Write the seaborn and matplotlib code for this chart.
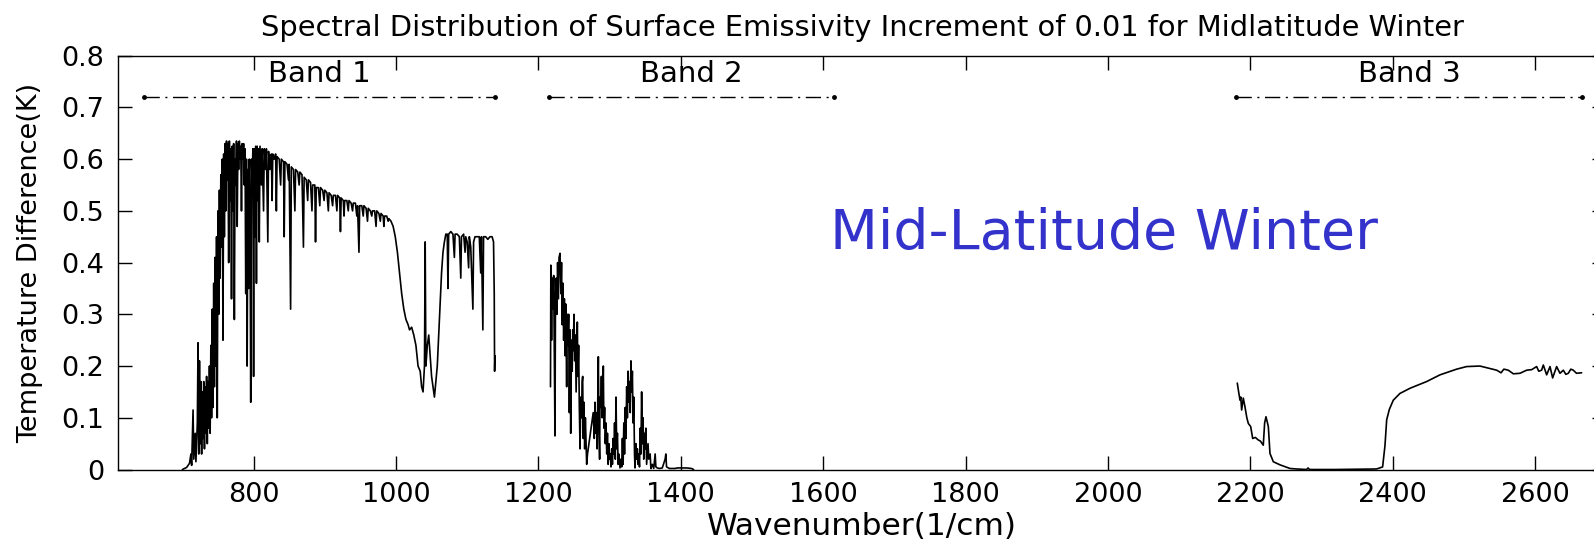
import matplotlib
matplotlib.use("Agg")
import matplotlib.pyplot as plt
import pandas as pd
import seaborn as sns

# ---------------- data ----------------
band1_wn = [700, 706, 710, 712, 713, 715, 716, 718, 719, 721, 722, 723, 724, 725, 726, 727, 728, 729, 730, 731,
            732, 733, 734, 735, 736, 737, 738, 739, 740, 741, 742, 743, 744, 745, 746, 747, 748, 749, 750, 751,
            752, 753, 754, 755, 756, 757, 758, 759, 760, 761, 762, 763, 764, 765, 766, 767, 768, 769, 770, 771,
            772, 773, 774, 775, 776, 777, 778, 779, 780, 781, 782, 783, 784, 785, 786, 787, 788, 789, 790, 791,
            792, 793, 794, 795, 796, 797, 798, 799, 800, 801, 802, 803, 804, 805, 806, 807, 808, 809, 811, 812,
            814, 815, 817, 818, 820, 821, 823, 825, 826, 827, 829, 831, 832, 833, 836, 838, 839, 842, 843, 844,
            847, 849, 850, 852, 853, 856, 858, 859, 862, 864, 865, 868, 870, 871, 874, 876, 877, 880, 882, 883,
            886, 887, 888, 891, 893, 894, 897, 899, 900, 903, 905, 906, 909, 911, 912, 915, 917, 918, 921, 922,
            923, 926, 927, 928, 931, 933, 934, 937, 939, 940, 943, 945, 946, 948, 949, 952, 954, 955, 958, 960,
            961, 964, 966, 967, 970, 972, 973, 976, 978, 979, 982, 983, 984, 987, 989, 990, 993, 996, 999, 1002,
            1005, 1008, 1011, 1014, 1017, 1019, 1022, 1025, 1028, 1031, 1034, 1036, 1038, 1040, 1041, 1042, 1044, 1046, 1048, 1050,
            1052, 1054, 1056, 1058, 1060, 1062, 1064, 1066, 1068, 1070, 1072, 1073, 1074, 1077, 1080, 1082, 1083, 1086, 1089, 1091,
            1092, 1095, 1097, 1098, 1100, 1102, 1103, 1105, 1107, 1108, 1109, 1111, 1114, 1117, 1119, 1120, 1122, 1123, 1126, 1129,
            1132, 1135, 1137, 1138, 1138.5, 1139]
band1_dt = [0.0, 0.004, 0.012, 0.03, 0.008, 0.115, 0.02, 0.07, 0.015, 0.09, 0.245, 0.03, 0.21, 0.05, 0.17, 0.03, 0.15, 0.06, 0.17, 0.04,
            0.16, 0.07, 0.18, 0.05, 0.17, 0.08, 0.2, 0.07, 0.24, 0.1, 0.31, 0.12, 0.36, 0.16, 0.41, 0.2, 0.45, 0.1, 0.5, 0.3,
            0.54, 0.37, 0.57, 0.43, 0.6, 0.25, 0.61, 0.45, 0.63, 0.5, 0.635, 0.56, 0.63, 0.4, 0.635, 0.52, 0.62, 0.33, 0.625, 0.5,
            0.63, 0.29, 0.6, 0.55, 0.635, 0.47, 0.63, 0.58, 0.635, 0.6, 0.625, 0.5, 0.63, 0.6, 0.63, 0.55, 0.62, 0.34, 0.6, 0.2,
            0.58, 0.35, 0.6, 0.5, 0.13, 0.6, 0.55, 0.62, 0.18, 0.62, 0.45, 0.625, 0.36, 0.625, 0.52, 0.62, 0.44, 0.625, 0.55, 0.62,
            0.5, 0.62, 0.58, 0.62, 0.44, 0.615, 0.58, 0.61, 0.52, 0.61, 0.6, 0.61, 0.5, 0.605, 0.6, 0.55, 0.6, 0.595, 0.45, 0.595,
            0.59, 0.56, 0.59, 0.31, 0.585, 0.58, 0.5, 0.58, 0.575, 0.55, 0.575, 0.57, 0.43, 0.565, 0.56, 0.52, 0.56, 0.555, 0.5, 0.55,
            0.55, 0.44, 0.545, 0.545, 0.51, 0.545, 0.54, 0.52, 0.54, 0.535, 0.5, 0.535, 0.53, 0.51, 0.53, 0.53, 0.5, 0.53, 0.525, 0.46,
            0.525, 0.52, 0.49, 0.52, 0.52, 0.5, 0.52, 0.515, 0.5, 0.515, 0.515, 0.49, 0.51, 0.42, 0.51, 0.51, 0.49, 0.51, 0.505, 0.48,
            0.505, 0.5, 0.49, 0.5, 0.5, 0.47, 0.5, 0.495, 0.48, 0.495, 0.49, 0.47, 0.49, 0.49, 0.48, 0.485, 0.48, 0.47, 0.45, 0.42,
            0.38, 0.34, 0.31, 0.29, 0.28, 0.27, 0.275, 0.26, 0.24, 0.2, 0.19, 0.16, 0.15, 0.2, 0.44, 0.2, 0.24, 0.26, 0.22, 0.18,
            0.16, 0.14, 0.17, 0.2, 0.26, 0.32, 0.38, 0.42, 0.44, 0.455, 0.455, 0.35, 0.455, 0.46, 0.455, 0.41, 0.455, 0.455, 0.45, 0.37,
            0.45, 0.455, 0.42, 0.45, 0.44, 0.39, 0.45, 0.43, 0.35, 0.31, 0.44, 0.45, 0.45, 0.45, 0.38, 0.45, 0.27, 0.45, 0.45, 0.445,
            0.45, 0.45, 0.44, 0.34, 0.19, 0.22]

band2_wn = [1217, 1217.5, 1218.5, 1219.5, 1220.5, 1221.5, 1222.5, 1223.3, 1224, 1225, 1226, 1227, 1228, 1229, 1230.4, 1231.5,
            1232.5, 1233.5, 1234.5, 1235.5, 1236.5, 1237.5, 1238.5, 1239.7, 1240.5, 1241.5, 1242.5, 1243.5, 1244.5, 1245.4,
            1246.5, 1247.5, 1248.3, 1249.1, 1250, 1251, 1252, 1253, 1254.7, 1255.5, 1256.5, 1257.5, 1258.5, 1259.5, 1260.5,
            1261.5, 1262.2, 1263, 1264, 1265, 1266, 1267.8, 1269, 1271, 1273, 1275, 1277, 1278.5, 1279.5, 1280.5, 1281.5,
            1282.5, 1283.5, 1284.2, 1285, 1286, 1286.5, 1287.5, 1288.5, 1289.5, 1290.5, 1291.2, 1292, 1293, 1294, 1295, 1296,
            1297, 1298, 1299, 1300, 1301, 1302, 1303, 1304, 1305, 1306, 1307, 1308, 1309, 1310, 1311, 1312, 1313, 1314.6,
            1316, 1317, 1318, 1319, 1320, 1321, 1322, 1323, 1324, 1325, 1326, 1327, 1328, 1329, 1330, 1331, 1332, 1333, 1334,
            1335, 1335.7, 1337, 1338, 1339, 1340, 1341, 1342, 1343, 1344, 1345, 1346, 1347, 1348, 1349, 1350, 1351, 1352,
            1354, 1355, 1357, 1358, 1360, 1362, 1364, 1365, 1367, 1370, 1374, 1378, 1379, 1380, 1384, 1392, 1395, 1405, 1408,
            1415, 1418]
band2_dt = [0.16, 0.395, 0.25, 0.37, 0.31, 0.375, 0.2, 0.065, 0.33, 0.37, 0.3, 0.4, 0.33, 0.41, 0.418, 0.34,
            0.4, 0.28, 0.36, 0.25, 0.33, 0.22, 0.32, 0.16, 0.3, 0.24, 0.3, 0.11, 0.27, 0.07,
            0.25, 0.19, 0.27, 0.23, 0.3, 0.21, 0.26, 0.15, 0.285, 0.18, 0.24, 0.12, 0.04, 0.14, 0.1,
            0.17, 0.18, 0.06, 0.13, 0.04, 0.1, 0.01, 0.03, 0.05, 0.07, 0.09, 0.11, 0.06, 0.13, 0.07, 0.11,
            0.04, 0.15, 0.218, 0.09, 0.02, 0.14, 0.12, 0.18, 0.1, 0.14, 0.2, 0.08, 0.12, 0.05, 0.09, 0.03,
            0.07, 0.01, 0.05, 0.02, 0.03, 0.005, 0.04, 0.01, 0.06, 0.03, 0.09, 0.02, 0.14, 0.04, 0.07, 0.01, 0.03, 0.003,
            0.02, 0.005, 0.06, 0.01, 0.09, 0.03, 0.12, 0.06, 0.16, 0.1, 0.19, 0.13, 0.17, 0.11, 0.21, 0.15, 0.19, 0.09, 0.14,
            0.03, 0.003, 0.05, 0.02, 0.04, 0.01, 0.03, 0.005, 0.08, 0.03, 0.15, 0.05, 0.1, 0.02, 0.07, 0.04, 0.08, 0.01,
            0.05, 0.02, 0.03, 0.002, 0.01, 0.002, 0.03, 0.005, 0.003, 0.002, 0.003, 0.02, 0.03, 0.005, 0.002, 0.002, 0.003, 0.003, 0.003,
            0.002, 0.0]

band3_wn = [2181.6, 2183.5, 2185.4, 2186.5, 2187.7, 2190, 2192.4, 2195, 2197.1, 2200.4, 2203.2, 2207, 2211.1, 2214, 2218.1,
            2220, 2221.9, 2225.2, 2227.5, 2232.2, 2241.6, 2255.6, 2265, 2279, 2281, 2283, 2320, 2377.3, 2385.7, 2389,
            2391.4, 2395.1, 2400.7, 2410, 2424.1, 2447.5, 2466.3, 2489.7, 2503.7, 2522.4, 2545.9, 2552, 2556, 2562.2, 2569.3,
            2578.6, 2588, 2595, 2602, 2605, 2609, 2611.4, 2616.1, 2620.8, 2624.5, 2630.1, 2634.8, 2639.5, 2643, 2646.5, 2650,
            2653.5, 2658, 2665.2]
band3_dt = [0.167, 0.15, 0.134, 0.14, 0.115, 0.138, 0.121, 0.1, 0.089, 0.083, 0.06, 0.062, 0.057, 0.055, 0.047,
            0.09, 0.102, 0.083, 0.031, 0.015, 0.009, 0.002, 0.001, 0.0, 0.003, 0.0, 0.0, 0.001, 0.005, 0.046,
            0.096, 0.116, 0.134, 0.147, 0.157, 0.170, 0.183, 0.194, 0.199, 0.200, 0.192, 0.187, 0.194, 0.192, 0.185,
            0.186, 0.192, 0.193, 0.199, 0.19, 0.192, 0.202, 0.183, 0.199, 0.177, 0.199, 0.186, 0.192, 0.184, 0.186, 0.194,
            0.192, 0.186, 0.187]

band_names = ["Band 1", "Band 2", "Band 3"]
band_start = [646, 1215, 2180]
band_end = [1139, 1615, 2666]
band_line_y = 0.72
band_label_y = 0.765

x_ticks = [800, 1000, 1200, 1400, 1600, 1800, 2000, 2200, 2400, 2600]
y_ticks = [0, 0.1, 0.2, 0.3, 0.4, 0.5, 0.6, 0.7, 0.8]
y_tick_labels = ["0", "0.1", "0.2", "0.3", "0.4", "0.5", "0.6", "0.7", "0.8"]

title = "Spectral Distribution of Surface Emissivity Increment of 0.01 for Midlatitude Winter"
x_label = "Wavenumber(1/cm)"
y_label = "Temperature Difference(K)"
overlay_text = "Mid-Latitude Winter"

# ---------------- plot ----------------
sns.set_style("ticks")
plt.rcParams["font.family"] = ["DejaVu Sans"]
plt.rcParams["text.color"] = "black"
plt.rcParams["axes.labelcolor"] = "black"

fig = plt.figure(figsize=(15.94, 5.42), dpi=100)
ax = fig.add_axes([118.3 / 1594, (542 - 469.5) / 542, (1606.4 - 118.3) / 1594, (469.5 - 55.7) / 542])

for name, wn, dt in [("b1", band1_wn, band1_dt), ("b2", band2_wn, band2_dt), ("b3", band3_wn, band3_dt)]:
    df = pd.DataFrame({"wn": wn, "dt": dt})
    sns.lineplot(data=df, x="wn", y="dt", ax=ax, color="black", linewidth=1.2,
                 estimator=None, sort=False, legend=False)

for name, x0, x1 in zip(band_names, band_start, band_end):
    bdf = pd.DataFrame({"wn": [x0, x1], "dt": [band_line_y, band_line_y]})
    sns.lineplot(data=bdf, x="wn", y="dt", ax=ax, color="black", linewidth=1.0,
                 estimator=None, sort=False, legend=False, marker="o", markersize=3.5,
                 markeredgewidth=0, linestyle=(0, (11, 4, 1.5, 4)))
    ax.text((x0 + x1) / 2, band_label_y, name, ha="center", va="center", fontsize=21, color="black")

ax.text(1610, 0.455, overlay_text, ha="left", va="center", fontsize=40, color="#3333cc")

ax.set_xlim(610, 2700)
ax.set_ylim(0, 0.8)
ax.set_xticks(x_ticks)
ax.set_xticklabels([str(t) for t in x_ticks])
ax.set_yticks(y_ticks)
ax.set_yticklabels(y_tick_labels)
ax.tick_params(direction="in", length=10, width=1.0, top=True, right=True,
               labelsize=19.5, pad=10, colors="black")
ax.tick_params(axis="x", pad=9)
for s in ax.spines.values():
    s.set_visible(True)
    s.set_linewidth(1.0)
    s.set_color("black")

ax.set_title(title, fontsize=20.8, pad=14, color="black")
ax.set_xlabel(x_label, fontsize=22.5, labelpad=3, color="black")
ax.set_ylabel(y_label, fontsize=19.5, labelpad=13, color="black")

fig.savefig("out.png", dpi=100)
